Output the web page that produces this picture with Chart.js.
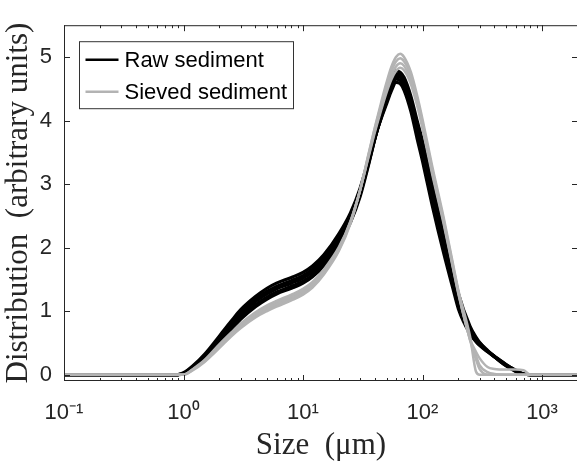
<!DOCTYPE html>
<html><head><meta charset="utf-8">
<script src="https://cdn.jsdelivr.net/npm/chart.js@4.4.0/dist/chart.umd.min.js"></script>
<style>html,body{margin:0;padding:0;overflow:hidden;background:#fff;width:577px;height:464px}canvas{display:block}</style>
</head><body>
<canvas id="c" width="578" height="464" style="width:578px;height:464px"></canvas>
<script>
// Particle size bins (µm)
const sizes = [0.1,0.9,1,1.2,1.5,2,2.5,3,4,5,6,8,10,12,15,20,25,30,35,40,45,50,55,60,65,70,80,90,100,120,150,180,200,250,280,300,350,400,500,600,700,800,1000,2000];

// Raw sediment curves
const raw1 = [0,0,0.03,0.14,0.32,0.61,0.84,1.02,1.23,1.36,1.44,1.53,1.61,1.71,1.89,2.22,2.55,2.93,3.36,3.74,4.03,4.26,4.47,4.6,4.58,4.48,4.14,3.72,3.36,2.68,1.92,1.35,1.03,0.64,0.52,0.46,0.36,0.28,0.16,0.07,0.01,0,0,0];
const raw2 = [0,0,0.02,0.13,0.3,0.58,0.8,0.98,1.19,1.31,1.39,1.48,1.56,1.66,1.84,2.17,2.5,2.89,3.33,3.73,4.04,4.29,4.51,4.65,4.63,4.53,4.2,3.79,3.44,2.77,2.0,1.42,1.08,0.66,0.53,0.47,0.37,0.29,0.16,0.07,0.01,0,0,0];
const raw3 = [0,0,0.02,0.12,0.28,0.55,0.77,0.94,1.15,1.27,1.35,1.44,1.52,1.62,1.8,2.13,2.47,2.86,3.31,3.72,4.05,4.32,4.55,4.7,4.68,4.58,4.26,3.86,3.52,2.86,2.1,1.5,1.14,0.69,0.55,0.49,0.37,0.29,0.15,0.06,0.01,0,0,0];
const raw4 = [0,0,0.02,0.11,0.26,0.52,0.73,0.9,1.1,1.22,1.3,1.39,1.47,1.57,1.75,2.09,2.43,2.83,3.29,3.72,4.07,4.35,4.59,4.74,4.72,4.63,4.32,3.93,3.6,2.95,2.2,1.58,1.21,0.73,0.57,0.5,0.37,0.28,0.14,0.06,0.01,0,0,0];
const raw5 = [0,0,0.01,0.1,0.25,0.5,0.7,0.87,1.07,1.19,1.27,1.36,1.44,1.54,1.72,2.06,2.4,2.8,3.27,3.72,4.09,4.38,4.63,4.78,4.76,4.68,4.38,4.0,3.68,3.03,2.28,1.65,1.27,0.76,0.59,0.51,0.38,0.28,0.14,0.05,0.01,0,0,0];

// Sieved sediment curves
const sieved1 = [0,0,0,0.07,0.2,0.42,0.6,0.73,0.9,1.0,1.07,1.17,1.26,1.37,1.58,1.95,2.38,2.9,3.44,3.9,4.28,4.6,4.85,5.0,5.05,5.0,4.76,4.4,4.02,3.3,2.48,1.74,1.32,0.6,0.05,0,0,0,0,0,0,0,0,0];
const sieved2 = [0,0,0,0.08,0.21,0.44,0.62,0.75,0.93,1.03,1.1,1.2,1.29,1.4,1.61,1.97,2.4,2.9,3.43,3.88,4.24,4.54,4.78,4.93,4.98,4.93,4.7,4.35,3.97,3.25,2.44,1.71,1.3,0.54,0.24,0.09,0,0,0,0,0,0,0,0];
const sieved3 = [0,0,0,0.08,0.22,0.46,0.64,0.78,0.96,1.06,1.13,1.23,1.32,1.43,1.64,1.99,2.41,2.9,3.41,3.85,4.2,4.49,4.71,4.85,4.9,4.86,4.63,4.29,3.92,3.21,2.41,1.69,1.28,0.56,0.36,0.26,0.12,0.09,0.08,0.08,0.07,0,0,0];
const sieved4 = [0,0,0,0.09,0.23,0.48,0.66,0.8,0.98,1.09,1.16,1.26,1.35,1.46,1.66,2.01,2.42,2.9,3.39,3.82,4.16,4.44,4.65,4.78,4.83,4.79,4.57,4.24,3.87,3.17,2.38,1.67,1.26,0.55,0.3,0.15,0.04,0.01,0,0,0,0,0,0];

const seriesNames = ['Raw sediment', 'Sieved sediment'];
const xTickValues = [0.1, 1, 10, 100, 1000];
const xTickLabels = ['10\u207B\u00B9', '10\u2070', '10\u00B9', '10\u00B2', '10\u00B3'];
const yTickValues = [0, 1, 2, 3, 4, 5];
const xTitle = 'Size  (\u03BCm)';
const yTitle = 'Distribution  (arbitrary units)';

const RAW_COLOR = '#000000';
const SIEVED_COLOR = '#b3b3b3';
const AXIS_COLOR = '#262626';

function toPoints(arr) { return sizes.map((s, i) => ({ x: s, y: arr[i] })); }
function mkSet(arr, name, color, order, width) {
  return { label: name, data: toPoints(arr), borderColor: color, backgroundColor: color,
    borderWidth: width, pointRadius: 0, fill: false, cubicInterpolationMode: 'monotone', order: order };
}
const datasets = [
  ...[sieved1, sieved2, sieved3, sieved4].map(a => mkSet(a, seriesNames[1], SIEVED_COLOR, 0, 2.5)),
  ...[raw1, raw2, raw3, raw4, raw5].map(a => mkSet(a, seriesNames[0], RAW_COLOR, 1, 3.2))
];

const boxPlugin = {
  id: 'boxTicksLegend',
  afterDraw(chart) {
    const { ctx, chartArea: a, scales } = chart;
    const xs = scales.x, ys = scales.y;
    ctx.save();
    ctx.strokeStyle = AXIS_COLOR;
    ctx.lineWidth = 1;
    ctx.strokeRect(a.left + 0.5, a.top + 0.5, a.right - a.left - 1, a.bottom - a.top - 1);
    ctx.beginPath();
    const major = 6, minor = 3;
    for (let k = -1; k <= 3; k++) {
      for (let m = 1; m <= 9; m++) {
        const v = m * Math.pow(10, k);
        if (v < 0.1 || v > 2000) continue;
        const px = Math.round(xs.getPixelForValue(v)) + 0.5;
        const len = m === 1 ? major : minor;
        ctx.moveTo(px, a.bottom); ctx.lineTo(px, a.bottom - len);
        ctx.moveTo(px, a.top); ctx.lineTo(px, a.top + len);
      }
    }
    yTickValues.forEach(v => {
      const py = Math.round(ys.getPixelForValue(v)) + 0.5;
      ctx.moveTo(a.left, py); ctx.lineTo(a.left + major, py);
      ctx.moveTo(a.right, py); ctx.lineTo(a.right - major, py);
    });
    ctx.stroke();

    // legend
    const lx = a.left + 15.5, ly = a.top + 16.5, lw = 214, lh = 67;
    ctx.fillStyle = '#ffffff';
    ctx.fillRect(lx, ly, lw, lh);
    ctx.strokeStyle = '#333333';
    ctx.lineWidth = 1;
    ctx.strokeRect(lx, ly, lw, lh);
    const items = [[seriesNames[0], RAW_COLOR, ly + 18], [seriesNames[1], SIEVED_COLOR, ly + 50]];
    ctx.font = '22px "Liberation Sans", Arial, sans-serif';
    ctx.textBaseline = 'middle';
    ctx.textAlign = 'left';
    items.forEach(([name, color, yy]) => {
      ctx.strokeStyle = color; ctx.lineWidth = 2.5;
      ctx.beginPath(); ctx.moveTo(lx + 6, yy); ctx.lineTo(lx + 39, yy); ctx.stroke();
      ctx.fillStyle = '#000';
      ctx.fillText(name, lx + 45, yy + 1);
    });
    ctx.restore();
  }
};

new Chart(document.getElementById('c'), {
  type: 'line',
  data: { datasets },
  options: {
    responsive: false,
    animation: false,
    devicePixelRatio: 1,
    layout: { padding: { top: 4, right: 0, bottom: 0, left: 0 } },
    plugins: { legend: { display: false }, tooltip: { enabled: false } },
    scales: {
      x: {
        type: 'logarithmic', min: 0.1, max: 2000,
        afterBuildTicks: s => { s.ticks = xTickValues.map(v => ({ value: v, major: true })); },
        afterFit: s => { s.height = 83; },
        grid: { display: false, drawTicks: false },
        border: { display: false },
        ticks: {
          autoSkip: false, maxRotation: 0, padding: 19, color: AXIS_COLOR,
          font: { family: '"Liberation Sans", Arial, sans-serif', size: 22 },
          callback: (v) => { const i = xTickValues.indexOf(v); return i >= 0 ? xTickLabels[i] : ''; }
        },
        title: { display: true, text: xTitle, color: AXIS_COLOR, padding: { top: 0, bottom: 0 },
          font: { family: '"Liberation Serif", "Times New Roman", serif', size: 31 } }
      },
      y: {
        type: 'linear', min: -0.1, max: 5.5,
        afterBuildTicks: s => { s.ticks = yTickValues.map(v => ({ value: v })); },
        afterFit: s => { s.width = 64; },
        grid: { display: false, drawTicks: false },
        border: { display: false },
        ticks: { padding: 12, color: AXIS_COLOR,
          font: { family: '"Liberation Sans", Arial, sans-serif', size: 22 },
          callback: v => String(v) },
        title: { display: true, text: yTitle, color: AXIS_COLOR, padding: { top: 0, bottom: 0 },
          font: { family: '"Liberation Serif", "Times New Roman", serif', size: 31 } }
      }
    }
  },
  plugins: [boxPlugin]
});
</script>
</body></html>
